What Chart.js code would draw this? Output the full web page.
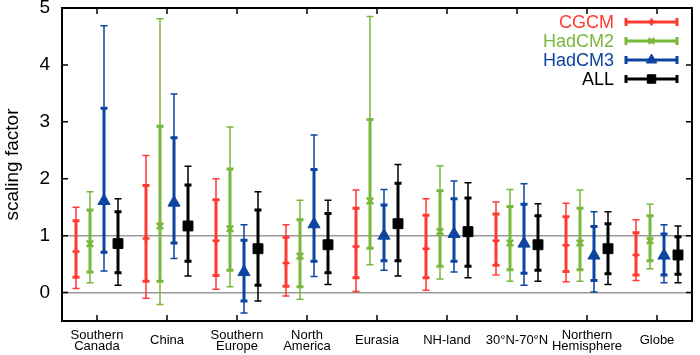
<!DOCTYPE html>
<html>
<head>
<meta charset="utf-8">
<script src="https://cdn.jsdelivr.net/npm/chart.js@4.4.1/dist/chart.umd.min.js"></script>
<style>
  html, body { margin: 0; padding: 0; background: #fff; }
  #wrap { width: 700px; height: 355px; }
</style>
</head>
<body>
<div id="wrap"><canvas id="scaling-chart"></canvas></div>
<script>

const regions = [
    ['Southern', 'Canada'], 'China', ['Southern', 'Europe'], ['North', 'America'],
    'Eurasia', 'NH-land', '30°N-70°N', ['Northern', 'Hemisphere'], 'Globe'
];
const models = ['CGCM', 'HadCM2', 'HadCM3', 'ALL'];

// each row: [outer low, inner low, best estimate, inner high, outer high]
const cgcm = [
    [0.07, 0.27, 0.72, 1.26, 1.50],
    [-0.10, 0.20, 0.95, 1.88, 2.41],
    [0.06, 0.30, 0.91, 1.63, 2.00],
    [-0.06, 0.11, 0.52, 0.97, 1.19],
    [0.02, 0.26, 0.81, 1.48, 1.80],
    [0.04, 0.26, 0.77, 1.36, 1.65],
    [0.31, 0.48, 0.91, 1.38, 1.59],
    [0.19, 0.37, 0.83, 1.33, 1.57],
    [0.21, 0.31, 0.66, 1.05, 1.28]
];
const hadcm2 = [
    [0.17, 0.36, 0.86, 1.45, 1.77],
    [-0.21, 0.20, 1.17, 2.92, 4.81],
    [0.10, 0.39, 1.12, 2.17, 2.91],
    [-0.12, 0.10, 0.64, 1.28, 1.62],
    [0.49, 0.78, 1.61, 3.04, 4.85],
    [0.24, 0.46, 1.07, 1.79, 2.23],
    [0.20, 0.40, 0.87, 1.51, 1.81],
    [0.20, 0.40, 0.87, 1.48, 1.80],
    [0.42, 0.56, 0.91, 1.35, 1.55]
];
const hadcm3 = [
    [0.38, 0.71, 1.61, 3.24, 4.69],
    [0.60, 0.87, 1.58, 2.72, 3.49],
    [-0.36, -0.15, 0.36, 0.92, 1.19],
    [0.28, 0.55, 1.20, 2.16, 2.77],
    [0.39, 0.56, 1.00, 1.54, 1.81],
    [0.36, 0.55, 1.03, 1.65, 1.96],
    [0.13, 0.34, 0.86, 1.55, 1.91],
    [0.01, 0.21, 0.65, 1.16, 1.42],
    [0.17, 0.31, 0.65, 1.03, 1.19]
];
const allModels = [
    [0.13, 0.35, 0.86, 1.42, 1.65],
    [0.29, 0.55, 1.17, 1.89, 2.22],
    [-0.15, 0.13, 0.77, 1.45, 1.77],
    [0.14, 0.35, 0.84, 1.39, 1.62],
    [0.29, 0.56, 1.21, 1.92, 2.25],
    [0.26, 0.46, 1.07, 1.66, 1.93],
    [0.20, 0.39, 0.84, 1.35, 1.56],
    [0.14, 0.33, 0.77, 1.21, 1.42],
    [0.17, 0.32, 0.66, 0.98, 1.17]
];
const yTicks = [0, 1, 2, 3, 4, 5];

const seriesRows = [cgcm, hadcm2, hadcm3, allModels];
const colors = ['#ff3a33', '#79b83c', '#0c44a0', '#000000'];
const pointStyles = ['cross', 'crossRot', 'triangle', 'rect'];
const pointRadii = [3.5, 4.5, 7, 7];
const offsets = [-0.3, -0.1, 0.1, 0.3];
const FONT = '"Liberation Sans", Arial, Helvetica, sans-serif';

function makeDatasets() {
    let sets = [];
    for (let k = 0; k < models.length; ++k) {
        sets.push({
            label: models[k],
            data: seriesRows[k].map((r, i) => ({x: i + offsets[k], y: r[2]})),
            pointStyle: pointStyles[k],
            pointRadius: pointRadii[k],
            pointBorderWidth: k < 2 ? 2.5 : 1,
            borderColor: colors[k],
            backgroundColor: colors[k],
            showLine: false
        });
    }
    return sets;
}

function drawBar(ctx, x, y1, y2, width, cap) {
    ctx.lineWidth = width;
    ctx.beginPath();
    ctx.moveTo(x, y1); ctx.lineTo(x, y2);
    ctx.moveTo(x - cap, y1); ctx.lineTo(x + cap, y1);
    ctx.moveTo(x - cap, y2); ctx.lineTo(x + cap, y2);
    ctx.stroke();
}

const errorBars = {
    id: 'errorBars',
    beforeDatasetsDraw(chart) {
        const ctx = chart.ctx;
        const xs = chart.scales.x, ys = chart.scales.y;
        ctx.save();
        for (let k = 0; k < seriesRows.length; ++k) {
            ctx.strokeStyle = colors[k];
            seriesRows[k].forEach((r, i) => {
                const px = xs.getPixelForValue(i + offsets[k]);
                drawBar(ctx, px, ys.getPixelForValue(r[0]), ys.getPixelForValue(r[4]), 1.5, 3.5);
                drawBar(ctx, px, ys.getPixelForValue(r[1]), ys.getPixelForValue(r[3]), 3, 3.5);
            });
        }
        ctx.restore();
    },
    afterDraw(chart) {
        const ctx = chart.ctx;
        const a = chart.chartArea;
        const xs = chart.scales.x, ys = chart.scales.y;
        ctx.save();
        // frame and inward ticks on all four sides
        ctx.strokeStyle = '#000';
        ctx.lineWidth = 2;
        ctx.strokeRect(a.left, a.top, a.right - a.left, a.bottom - a.top);
        ctx.lineWidth = 1.5;
        ctx.beginPath();
        regions.forEach((r, i) => {
            const px = xs.getPixelForValue(i);
            ctx.moveTo(px, a.bottom); ctx.lineTo(px, a.bottom - 6);
            ctx.moveTo(px, a.top); ctx.lineTo(px, a.top + 6);
        });
        yTicks.forEach(v => {
            const py = ys.getPixelForValue(v);
            ctx.moveTo(a.left, py); ctx.lineTo(a.left + 6, py);
            ctx.moveTo(a.right, py); ctx.lineTo(a.right - 6, py);
        });
        ctx.stroke();

        // legend
        ctx.font = '18px ' + FONT;
        ctx.textAlign = 'right';
        ctx.textBaseline = 'middle';
        for (let k = 0; k < models.length; ++k) {
            const y = 22 + k * 19;
            ctx.fillStyle = colors[k];
            ctx.fillText(models[k], 614, y + 1);
            ctx.strokeStyle = colors[k];
            ctx.lineWidth = 3;
            ctx.beginPath();
            ctx.moveTo(626, y); ctx.lineTo(677, y);
            ctx.moveTo(626, y - 4); ctx.lineTo(626, y + 4);
            ctx.moveTo(677, y - 4); ctx.lineTo(677, y + 4);
            ctx.stroke();
            ctx.lineWidth = k < 2 ? 2.5 : 1;
            Chart.helpers.drawPoint(ctx, {
                pointStyle: pointStyles[k],
                radius: k === 0 ? 3.5 : (k === 1 ? 4 : 6),
                rotation: 0,
                borderWidth: k < 2 ? 2.5 : 1
            }, 651.5, y);
        }
        ctx.restore();
    }
};

const config = {
    type: 'scatter',
    data: { datasets: makeDatasets() },
    options: {
        responsive: true,
        maintainAspectRatio: false,
        animation: false,
        events: [],
        layout: { padding: { top: 6, right: 3, left: 0, bottom: 0 } },
        plugins: {
            legend: { display: false },
            tooltip: { enabled: false }
        },
        scales: {
            x: {
                type: 'linear',
                min: -0.5,
                max: 8.5,
                afterBuildTicks: s => { s.ticks = regions.map((r, i) => ({value: i})); },
                afterFit: s => { s.height = 34; s.paddingLeft = 0; s.paddingRight = 0; },
                grid: { display: false, drawTicks: false },
                border: { display: false },
                ticks: {
                    autoSkip: false,
                    maxRotation: 0,
                    padding: 14,
                    crossAlign: 'center',
                    color: '#000',
                    font: { family: FONT, size: 13, lineHeight: 0.9 },
                    callback: v => regions[v]
                }
            },
            y: {
                min: -0.5,
                max: 5,
                afterBuildTicks: s => { s.ticks = yTicks.map(v => ({value: v})); },
                afterFit: s => { s.width = 62; s.paddingTop = 0; s.paddingBottom = 0; },
                grid: {
                    drawTicks: false,
                    lineWidth: 1.5,
                    color: c => (c.tick && (c.tick.value === 0 || c.tick.value === 1)) ? '#999999' : 'rgba(0,0,0,0)'
                },
                border: { display: false },
                ticks: {
                    padding: 12,
                    color: '#000',
                    font: { family: FONT, size: 19 }
                },
                title: {
                    display: true,
                    text: 'scaling factor',
                    color: '#000',
                    padding: { top: 1, bottom: 0 },
                    font: { family: FONT, size: 19 }
                }
            }
        }
    },
    plugins: [errorBars]
};

new Chart('scaling-chart', config);
</script>
</body>
</html>
